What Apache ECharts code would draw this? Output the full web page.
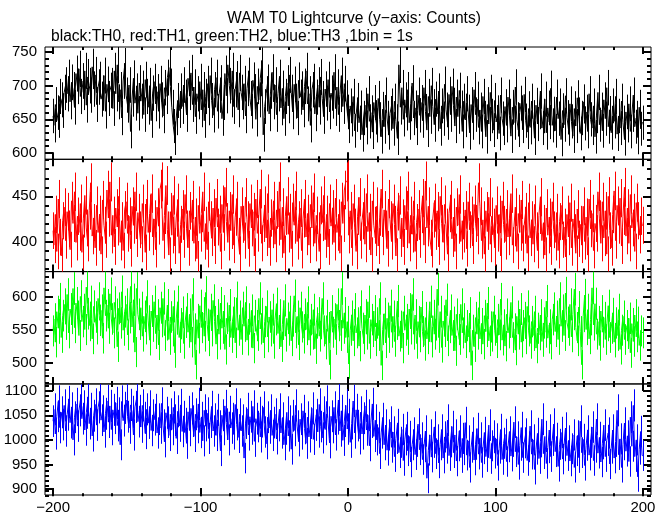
<!DOCTYPE html>
<html>
<head>
<meta charset="utf-8">
<script src="https://cdn.jsdelivr.net/npm/echarts@6/dist/echarts.min.js"></script>
<style>html,body{margin:0;padding:0;background:#fff}#c{width:669px;height:515px}</style>
</head>
<body>
<div id="c"></div>
<script>
// Time bins: -200 .. 200 s (1 bin = 1 s); counts per bin, error = sqrt(counts)
const tStart = -200;

const th0 = [
655,641,672,660,648,684,679,663,690,701,
688,712,676,705,694,668,718,699,725,684,
707,690,722,671,713,700,686,728,695,716,
672,698,709,680,689,715,662,702,681,693,
700,666,722,688,731,676,694,652,707,729,
686,671,701,632,680,711,674,692,659,704,
677,696,657,709,684,668,700,648,689,706,
673,691,662,703,679,655,697,684,712,727,
699,668,640,622,652,678,663,692,669,701,
683,657,711,690,719,672,698,654,688,676,
706,664,694,648,684,703,667,715,678,656,
694,712,662,686,704,651,675,718,685,731,
700,679,722,669,694,710,664,719,690,676,
703,655,696,715,681,662,708,691,650,699,
679,711,730,627,669,688,705,658,692,720,
676,701,657,688,712,667,696,651,684,704,
670,716,690,661,702,677,652,708,683,695,
664,699,722,673,688,641,694,706,658,683,
701,668,713,681,654,695,674,709,661,689,
677,720,666,698,657,687,715,669,703,682,
661,640,670,650,684,633,657,678,645,667,
627,652,671,638,688,647,660,631,675,653,
641,681,650,624,665,639,686,652,630,659,
670,636,677,647,622,731,668,697,650,679,
659,694,645,673,704,652,667,637,686,656,
675,648,697,662,634,684,654,700,669,642,
680,658,692,636,670,651,702,664,645,687,
657,699,671,640,683,654,693,667,632,677,
649,688,661,630,672,645,694,657,680,638,
664,632,684,652,624,672,643,690,655,634,
678,646,660,629,686,651,637,669,641,683,
655,625,668,645,698,650,634,674,660,640,
687,648,631,666,638,677,653,622,671,643,
661,692,637,655,680,630,667,646,696,641,
658,633,683,651,670,620,663,642,685,653,
636,673,647,625,666,640,682,657,629,652,
676,644,661,632,688,650,637,670,624,655,
690,642,664,633,679,651,697,639,659,630,
670,647,684,628,655,637,677,645,621,661,
641,673,632,657,686,639,652,623,668,636,
645];

const th1 = [
412,396,430,389,447,405,384,423,438,401,
433,414,391,445,420,455,399,428,410,442,
388,425,451,415,398,434,465,406,421,393,
440,410,430,386,446,418,402,457,426,466,
407,429,394,437,416,450,399,423,390,435,
444,409,428,392,439,418,455,403,432,413,
397,442,421,388,447,410,431,453,405,425,
391,438,417,458,466,401,429,462,413,385,
433,407,451,395,426,443,387,419,436,402,
452,414,393,434,421,446,398,427,381,440,
409,431,455,400,418,391,444,424,404,437,
395,448,416,430,389,441,410,460,422,399,
434,412,452,396,427,445,406,386,439,419,
401,449,424,392,442,415,433,384,447,409,
429,458,398,420,440,404,453,393,426,413,
445,397,435,416,466,402,438,387,428,450,
408,432,392,443,418,456,400,424,437,390,
425,447,405,431,396,441,415,454,398,429,
412,389,440,421,451,402,430,394,442,417,
436,399,448,410,426,387,444,420,457,466,
468,407,434,393,442,416,389,428,449,401,
423,438,397,453,411,432,385,445,418,404,
439,395,427,458,405,435,414,392,447,424,
400,442,419,384,433,451,403,426,394,440,
413,456,398,429,408,445,389,421,436,402,
430,448,396,467,415,439,404,391,425,443,
411,434,394,450,420,399,441,416,386,431,
446,403,427,389,438,418,452,400,423,408,
435,392,444,413,429,395,441,420,406,465,
439,401,424,386,434,411,449,397,428,416,
393,440,409,430,384,445,419,400,436,405,
426,453,396,415,438,389,431,410,446,398,
418,433,387,443,404,424,397,441,412,390,
429,449,401,420,385,437,407,427,394,444,
413,399,432,390,422,440,402,416,383,430,
405,443,393,425,410,387,436,403,419,396,
439,400,427,385,447,414,431,390,420,409,
455,425,398,444,404,434,386,450,412,393,
430,456,401,440,418,448,395,428,460,406,
437,398,452,415,432,389,443,423,407,428,
418];

const th2 = [
548,566,531,577,552,596,538,571,588,558,
603,545,581,567,612,553,590,570,541,600,
562,580,550,614,574,556,592,536,585,569,
551,597,564,579,537,613,571,587,552,604,
566,545,591,573,524,582,560,607,549,577,
588,542,568,615,554,595,516,612,573,558,
583,540,570,551,600,563,534,578,555,592,
544,572,527,583,562,597,541,557,587,535,
569,548,585,515,566,592,538,559,576,529,
561,581,546,573,531,603,551,497,565,537,
586,553,575,540,606,558,533,580,548,594,
562,528,572,543,590,552,578,520,567,547,
587,538,561,575,530,598,549,570,535,583,
555,591,534,566,546,579,522,571,556,541,
597,551,574,530,562,585,539,569,548,580,
529,565,589,544,572,524,558,594,540,567,
549,577,533,563,601,545,570,527,583,554,
537,573,550,591,534,565,543,580,521,560,
575,540,559,597,548,528,571,553,497,578,
546,566,535,588,556,541,612,552,575,538,
562,498,549,570,533,581,545,560,525,585,
552,536,572,543,592,529,565,547,578,533,
560,541,597,496,550,574,530,567,538,586,
546,570,532,558,593,540,555,522,577,549,
565,535,581,551,603,543,572,529,562,539,
584,547,526,568,536,555,592,531,571,543,
557,611,538,577,523,563,547,595,533,553,
579,541,561,518,573,550,535,588,545,566,
530,556,539,575,496,549,524,568,543,583,
536,559,528,571,547,590,533,554,540,577,
549,530,565,542,596,534,557,525,573,545,
561,591,538,551,519,570,543,581,531,556,
568,536,585,548,529,562,541,577,522,552,
542,572,532,560,546,593,537,557,528,565,
582,547,570,535,597,555,579,541,605,561,
549,588,539,573,611,553,533,584,547,497,
570,602,550,580,536,565,613,557,589,543,
562,526,578,546,568,535,556,586,538,552,
574,531,560,541,580,520,549,570,535,556,
544,567,515,559,532,572,539,561,526,548,
545];

const th3 = [
1038,1062,1012,1048,1078,1025,1056,1031,1070,1018,
1051,1077,1035,1064,1000,1046,1073,1028,1060,1080,
1043,1068,1020,1055,1081,1033,1063,1008,1049,1072,
1030,1066,1082,1040,1058,1016,1053,1079,1036,1069,
1021,1061,1044,1075,1029,1054,990,1078,1039,1065,
1081,1047,1024,1071,1057,1010,1067,1082,1037,1059,
1026,1070,1045,1013,1062,1034,1068,1019,1050,1041,
1061,1014,1042,1024,1074,1030,996,1055,1036,1009,
1052,1021,1066,1040,1003,1058,1028,1071,1017,1047,
1033,993,1057,1019,1064,1038,1007,1052,1025,1073,
1015,1045,998,1060,1029,1054,1003,1036,1067,1018,
1042,1009,1061,1028,978,1050,1021,1069,1032,1000,
1057,1024,1043,1012,1072,1031,1005,1052,1018,1040,
963,1034,1063,1010,1047,1022,1068,997,1043,1027,
1055,1006,1037,1066,1016,992,1046,1024,1060,1009,
1035,1052,1002,1029,1062,1014,1044,990,1022,1056,
1008,1038,981,1049,1019,1070,1028,998,1042,1012,
1059,1023,993,1046,1006,1034,1064,1001,1030,1051,
1016,1072,1027,1004,1056,1021,1078,1036,994,1048,
1025,1066,1010,1043,1081,1018,1059,999,1038,1070,
1022,1051,995,1033,1079,1014,1061,1029,1002,1056,
1012,1044,1069,1020,1050,988,1036,1073,1007,1040,
1000,1025,972,1014,1043,990,1030,979,1010,1036,
985,1016,966,1003,1031,974,995,1021,958,1000,
1025,978,1007,955,990,1014,970,997,1032,980,
1004,960,986,1018,922,979,1010,965,995,1026,
972,1000,953,990,1020,963,1006,983,1040,968,
996,1027,974,1010,957,988,1018,964,1003,980,
1035,969,998,944,985,1014,959,991,1023,971,
1004,954,982,1015,966,995,1030,962,988,1008,
973,1002,948,983,1021,960,993,1011,956,986,
1016,967,997,1036,976,1006,950,989,1025,964,
994,1012,958,986,1028,971,1000,940,981,1013,
962,996,1042,972,1007,952,984,1020,966,999,
1032,976,1003,946,991,1015,961,988,1024,968,
998,957,982,1010,944,978,1008,964,1038,974,
1001,948,989,1018,969,995,1026,958,985,1042,
973,1005,955,992,1030,966,999,1014,951,983,
1020,963,997,1060,970,1002,944,990,1034,977,
1008,956,1046,987,1070,966,1000,925,981,1017,
968];

const seriesColors = ['#000000', '#ff0000', '#00ff00', '#0000ff'];
const seriesNames = ['TH0', 'TH1', 'TH2', 'TH3'];
const yRanges = [[590.6, 757.5], [366.7, 491], [468, 637.5], [888, 1113.5]];
const yMajor = [[600, 650, 700, 750], [400, 450], [500, 550, 600], [900, 950, 1000, 1050, 1100]];
const xMajor = [-200, -100, 0, 100, 200];
const xMinor = [-200, -180, -160, -140, -120, -100, -80, -60, -40, -20, 0, 20, 40, 60, 80, 100, 120, 140, 160, 180, 200];
const xRange = [-205.5, 205.5];
const titleText = 'WAM T0 Lightcurve (y\u2212axis: Counts)';
const subText = 'black:TH0, red:TH1, green:TH2, blue:TH3 ,1bin = 1s';

const allData = [th0, th1, th2, th3];
const panelTops = [47, 159.3, 271.6, 384];
const panelH = 112.3;
const FONT = '"Liberation Sans", Arial, Helvetica, sans-serif';

function minorList(r) {
  const out = [];
  const s = Math.ceil(r[0] / 10) * 10;
  for (let v = s; v <= r[1]; v += 10) out.push(v);
  return out;
}
function fmt(v) { return v < 0 ? '\u2212' + Math.abs(v) : String(v); }

function makeRender(color) {
  return function (params, api) {
    const t = api.value(0), v = api.value(1), e = api.value(2);
    const pTop = api.coord([t, v + e]);
    const pBot = api.coord([t, v - e]);
    const x = Math.round(pTop[0]) + 0.5;
    return {type: 'line', shape: {x1: x, y1: pTop[1], x2: x, y2: pBot[1]}, style: {stroke: color, lineWidth: 1}};
  };
}

const grids = [], xAxes = [], yAxes = [], series = [];
for (let p = 0; p < 4; p++) {
  const gMain = grids.length;
  grids.push({left: 45, width: 606, top: panelTops[p], height: panelH, show: true, borderColor: '#000', borderWidth: 1, backgroundColor: 'transparent'});
  const gMin = grids.length;
  grids.push({left: 45, width: 606, top: panelTops[p], height: panelH, show: false});

  const tickStyle = {color: '#000', width: 2};
  const mkX = (g, pos, ticks, len, labels) => ({
    type: 'value', gridIndex: g, position: pos, min: xRange[0], max: xRange[1],
    axisLine: {show: false, onZero: false}, splitLine: {show: false},
    axisTick: {show: true, inside: true, length: len, customValues: ticks, lineStyle: tickStyle},
    axisLabel: labels ? {show: true, customValues: labels, formatter: fmt, color: '#000', fontFamily: FONT, fontSize: 15, margin: 5} : {show: false}
  });
  const mkY = (g, pos, ticks, len, labels) => ({
    type: 'value', gridIndex: g, position: pos, min: yRanges[p][0], max: yRanges[p][1],
    axisLine: {show: false, onZero: false}, splitLine: {show: false},
    axisTick: {show: true, inside: true, length: len, customValues: ticks, lineStyle: tickStyle},
    axisLabel: labels ? {show: true, customValues: labels, formatter: v => String(v), color: '#000', fontFamily: FONT, fontSize: 15, margin: 8} : {show: false}
  });

  const xiMain = xAxes.length;
  xAxes.push(mkX(gMain, 'bottom', xMajor, 7, p === 3 ? xMajor : null));
  xAxes.push(mkX(gMain, 'top', xMajor, 7, null));
  xAxes.push(mkX(gMin, 'bottom', xMinor, 3, null));
  xAxes.push(mkX(gMin, 'top', xMinor, 3, null));

  const yiMain = yAxes.length;
  yAxes.push(mkY(gMain, 'left', yMajor[p], 8, yMajor[p]));
  yAxes.push(mkY(gMain, 'right', yMajor[p], 8, null));
  yAxes.push(mkY(gMin, 'left', minorList(yRanges[p]), 4, null));
  yAxes.push(mkY(gMin, 'right', minorList(yRanges[p]), 4, null));

  const vals = allData[p];
  // step (histogram) line of the counts
  series.push({
    name: seriesNames[p], type: 'line', step: 'middle', symbol: 'none', showSymbol: false,
    xAxisIndex: xiMain, yAxisIndex: yiMain,
    data: vals.map((v, i) => [tStart + i, v]),
    lineStyle: {color: seriesColors[p], width: 1}, itemStyle: {color: seriesColors[p]},
    clip: true, animation: false, silent: true
  });
  // Poisson error bars
  series.push({
    name: seriesNames[p] + ' err', type: 'custom',
    xAxisIndex: xiMain, yAxisIndex: yiMain,
    renderItem: makeRender(seriesColors[p]),
    encode: {x: 0, y: 1},
    data: vals.map((v, i) => [tStart + i, v, Math.sqrt(v)]),
    clip: true, animation: false, silent: true
  });
}

const chart = echarts.init(document.getElementById('c'), null, {renderer: 'canvas'});
chart.setOption({
  backgroundColor: '#ffffff',
  animation: false,
  title: [
    {text: titleText, left: 349, top: 6, textAlign: 'center', textStyle: {fontFamily: FONT, fontSize: 15.6, fontWeight: 'normal', color: '#000'}},
    {text: subText, left: 46, top: 24, textStyle: {fontFamily: FONT, fontSize: 15.6, fontWeight: 'normal', color: '#000'}}
  ],
  grid: grids, xAxis: xAxes, yAxis: yAxes, series: series
});
</script>
</body>
</html>
